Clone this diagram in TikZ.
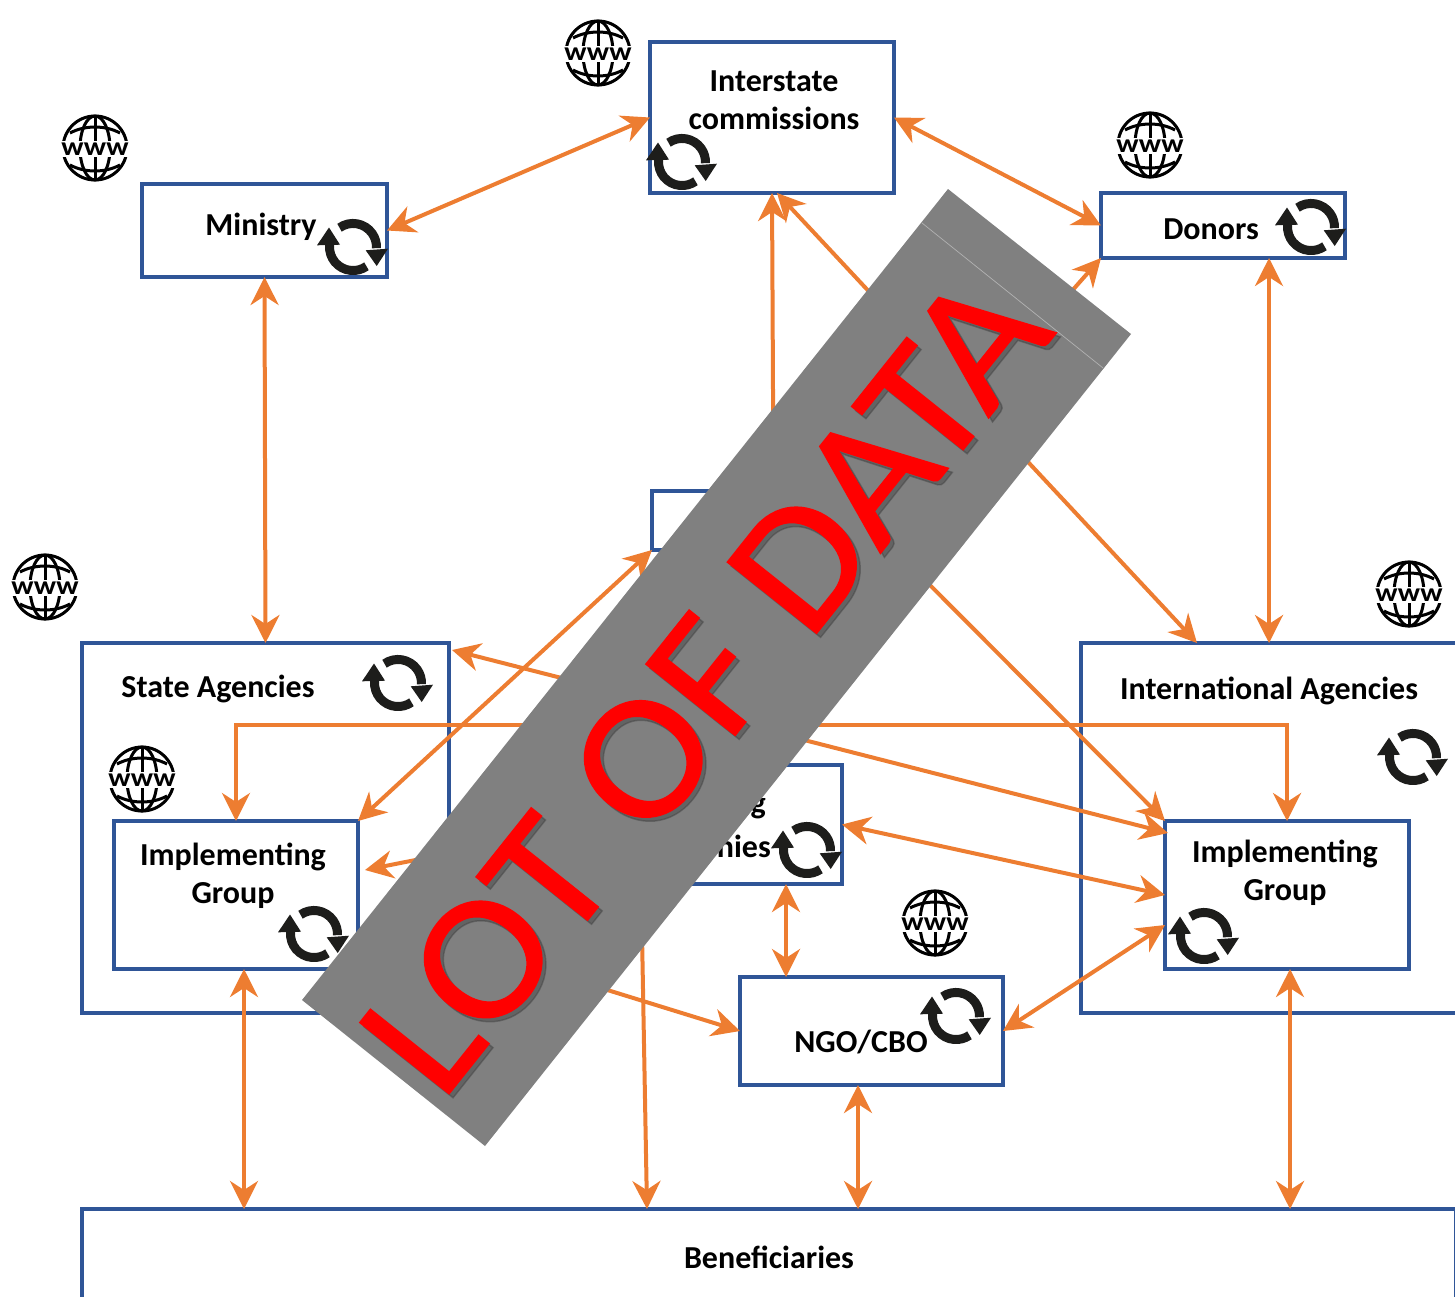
\documentclass[tikz,border=0pt]{standalone}
\usepackage{fontspec}
\setmainfont{Carlito}
\newfontfamily\titlefont{Carlito}[FakeBold=0.8]
\usepackage{tikz}
\usetikzlibrary{arrows,arrows.meta,positioning,calc}
\definecolor{boxblue}{HTML}{2F5597}
\definecolor{linkorange}{HTML}{ED7D31}
\definecolor{icondark}{HTML}{1D1D1B}
\tikzset{
  box/.style={draw=boxblue, line width=4pt, inner sep=0pt, outer sep=0pt},
  boxlabel/.style={font=\bfseries\fontsize{32}{38}\selectfont, align=center, inner sep=0pt},
  link/.style={draw=linkorange, line width=4pt, {Stealth[length=28pt,width=28pt,inset=9pt]}-{Stealth[length=28pt,width=28pt,inset=9pt]}},
  oneway/.style={draw=linkorange, line width=4pt, -{Stealth[length=28pt,width=28pt,inset=9pt]}},
  banner/.style={font=\titlefont\fontsize{178}{178}\selectfont, inner sep=0pt, rotate=51.4, xscale=1.07, anchor=base},
  refresh/.pic={
    \draw[icondark, line width=9pt] (-23.4,-2) arc[start angle=175, end angle=305, radius=23.5pt];
    \draw[icondark, line width=9pt] (-13.5,-19.3) arc[start angle=125, end angle=-3, radius=23.5pt];
    \fill[icondark] (-36,-1.7) -- (-13,-2.3) -- (-24,-19.5) -- cycle;
    \fill[icondark] (12.7,3.3) -- (35,1.7) -- (23.7,19) -- cycle;
  },
  webglobe/.pic={
    \draw[black, line width=3pt] (0,0) circle[radius=32pt];
    \draw[black, line width=3pt] (0,0) circle[x radius=15pt, y radius=32pt];
    \draw[black, line width=3pt] (0,-32) -- (0,32);
    \draw[black, line width=3pt] (-25,-15) .. controls (-10,-23) and (10,-23) .. (25,-15);
    \draw[black, line width=3pt] (-25,17) .. controls (-10,25) and (10,25) .. (25,17);
    \node[fill=white, inner sep=0pt, minimum width=60pt, minimum height=16pt, xscale=1.15, font=\bfseries\fontsize{26}{26}\selectfont] (www) at (0,1) {www};
  }
}
\begin{document}
\begin{tikzpicture}[x=1pt,y=-1pt]
  \clip (0,0) rectangle (1455,1296);
  % Define boxes
  \node[box, minimum width=245pt, minimum height=93pt] (ministry) at (264.5,230.5) {};
  \node[box, minimum width=244pt, minimum height=151pt] (inter) at (772,117.5) {};
  \node[box, minimum width=244pt, minimum height=65pt] (donors) at (1223,225.5) {};
  \node[box, minimum width=243pt, minimum height=59pt] (centre) at (773.5,520.5) {};
  \node[box, minimum width=367pt, minimum height=370pt] (state) at (265.5,828) {};
  \node[box, minimum width=376pt, minimum height=370pt] (intl) at (1269,828) {};
  \node[box, minimum width=244pt, minimum height=148pt] (impl-l) at (236,895) {};
  \node[box, minimum width=244pt, minimum height=148pt] (impl-r) at (1287,895) {};
  \node[box, minimum width=202pt, minimum height=119pt] (comp) at (741,824.5) {};
  \node[box, minimum width=263pt, minimum height=108pt] (ngo) at (871.5,1031) {};
  \node[box, minimum width=1374pt, minimum height=98pt] (benef) at (769,1258) {};

  % Draw links
  \draw[link] (ministry.east) -- (inter.west);
  \draw[link] (inter.east) -- (donors.west);
  \draw[link] (ministry.south) -- (state.north);
  \draw[link] (donors.south -| intl.north) -- (intl.north);
  \draw[link] (inter.south) -- (centre.north);
  \draw[link] ([xshift=5]inter.south) -- ([xshift=-72]intl.north);
  \draw[link] (centre.north east) -- (donors.south west);
  \draw[link] (centre.south west) -- (impl-l.north east);
  \draw[link] (centre.south east) -- (impl-r.north west);
  \draw[link] (impl-l.north) -- ++(0,-96) -| (impl-r.north);
  \draw[link] ([xshift=3,yshift=-7]state.north east) -- ([xshift=3,yshift=-12]impl-r.north west);
  \draw[link] ([xshift=7,yshift=25]impl-l.east) -- ([yshift=9]comp.west);
  \draw[link] (comp.east) -- (impl-r.west);
  \draw[link] ([xshift=45]comp.south) -- ([xshift=45]comp.south |- ngo.north);
  \draw[link] (ngo.east) -- ([yshift=-30]impl-r.west);
  \draw[oneway] ([yshift=-113]state.east) -- (ngo.west);
  \draw[oneway] (comp.west) -- ([xshift=-122]benef.north);
  \draw[link] ([xshift=8]impl-l.south) -- ([xshift=8]impl-l.south |- benef.north);
  \draw[link] ([xshift=-13.5]ngo.south) -- ([xshift=-13.5]ngo.south |- benef.north);
  \draw[link] ([xshift=3]impl-r.south) -- ([xshift=3]impl-r.south |- benef.north);

  % Box texts
  \node[boxlabel] (ministry-text) at (261,227) {Ministry};
  \node[boxlabel] (inter-text) at (774,100) {Interstate\\commissions};
  \node[boxlabel] (donors-text) at (1211,229) {Donors};
  \node[boxlabel] (state-text) at (218,689) {State Agencies};
  \node[boxlabel] (intl-text) at (1269,691) {International Agencies};
  \node[boxlabel] (impl-l-text) at (233,876) {Implementing\\Group};
  \node[boxlabel] (impl-r-text) at (1285,873) {Implementing\\Group};
  \node[boxlabel, anchor=east] (comp-top) at (766,808) {g};
  \node[boxlabel, anchor=east] (comp-text) at (771,846) {nies};
  \node[boxlabel] (ngo-text) at (861,1042) {NGO/CBO};
  \node[boxlabel] (benef-text) at (769,1257.5) {Beneficiaries};

  % Icons
  \pic (sync-ministry) at (353,247) {refresh};
  \pic (sync-inter) at (682,162) {refresh};
  \pic (sync-donors) at (1311,227) {refresh};
  \pic (sync-state) at (398,683) {refresh};
  \pic (sync-intl) at (1413,757) {refresh};
  \pic (sync-impl-l) at (314,934) {refresh};
  \pic (sync-impl-r) at (1204,936) {refresh};
  \pic (sync-comp) at (807,850) {refresh};
  \pic (sync-ngo) at (956,1016) {refresh};
  \pic (web-ministry) at (95,148) {webglobe};
  \pic (web-inter) at (598,53) {webglobe};
  \pic (web-donors) at (1150,145) {webglobe};
  \pic (web-state) at (45,587) {webglobe};
  \pic (web-intl) at (1409,594) {webglobe};
  \pic (web-impl) at (142,779) {webglobe};
  \pic (web-ngo) at (935,923) {webglobe};

  % Banner on top
  \fill[black!50] (948,189) -- (1131,334) -- (485,1146) -- (302,1000) -- cycle;
  \draw[black!30, line width=0.7pt] (922,223) -- (1103,368);
  \node[banner, text=black!75, opacity=0.45] (title-shadow) at (753,722) {LOT OF DATA};
  \node[banner, text=red] (title) at (749,718) {LOT OF DATA};
\end{tikzpicture}
\end{document}
